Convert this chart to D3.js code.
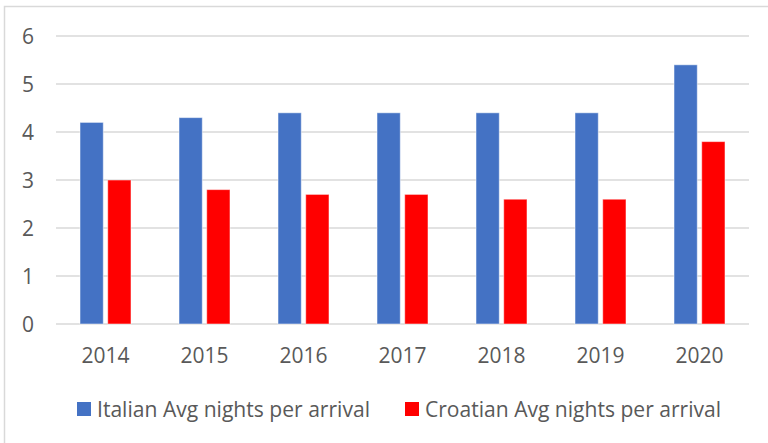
<!DOCTYPE html>
<html>
<head>
<meta charset="utf-8">
<script src="https://cdn.jsdelivr.net/npm/d3@7"></script>
<style>
  body { margin: 0; background: #fff; }
  svg { display: block; font-family: "Open Sans", "Noto Sans", sans-serif; }
</style>
</head>
<body>
<svg id="chart"></svg>
<script>
const years = ["2014", "2015", "2016", "2017", "2018", "2019", "2020"];
const italian = [4.2, 4.3, 4.4, 4.4, 4.4, 4.4, 5.4];
const croatian = [3.0, 2.8, 2.7, 2.7, 2.6, 2.6, 3.8];
const seriesNames = ["Italian Avg nights per arrival", "Croatian Avg nights per arrival"];
const seriesColors = ["#4472C4", "#FF0000"];
const yTicks = [0, 1, 2, 3, 4, 5, 6];

const width = 768;
const height = 443;
const textColor = "#595959";

const svg = d3.select("#chart")
  .attr("width", width)
  .attr("height", height);

// chart border (cut off at right/bottom like the reference)
svg.append("rect")
  .attr("x", 4.5).attr("y", 6.5)
  .attr("width", width + 10).attr("height", height + 10)
  .attr("fill", "none")
  .attr("stroke", "#d9d9d9")
  .attr("stroke-width", 1.5);

const x0 = d3.scaleBand().domain(years).range([56, 749]).paddingInner(0.485).paddingOuter(0.2425);
const x1 = d3.scaleBand().domain([0, 1]).range([0, x0.bandwidth()]).paddingInner(0.16);
const y = d3.scaleLinear().domain([0, 6]).range([324, 36]);

// gridlines
svg.append("g")
  .selectAll("line")
  .data(yTicks)
  .join("line")
  .attr("x1", 56).attr("x2", 749)
  .attr("y1", d => y(d)).attr("y2", d => y(d))
  .attr("stroke", "#d9d9d9")
  .attr("stroke-width", 1.5);

// y labels
svg.append("g")
  .selectAll("text")
  .data(yTicks)
  .join("text")
  .attr("x", 34)
  .attr("y", d => y(d))
  .attr("dy", "0.36em")
  .attr("text-anchor", "end")
  .attr("font-size", 21)
  .attr("fill", textColor)
  .text(d => d);

// bars
const series = [italian, croatian];
const groups = svg.append("g")
  .selectAll("g")
  .data(years)
  .join("g")
  .attr("transform", d => `translate(${x0(d)},0)`);

groups.selectAll("rect")
  .data((d, i) => series.map((s, k) => ({ k, v: s[i] })))
  .join("rect")
  .attr("x", d => x1(d.k))
  .attr("y", d => y(d.v))
  .attr("width", x1.bandwidth())
  .attr("height", d => y(0) - y(d.v))
  .attr("fill", d => seriesColors[d.k])
  .attr("stroke", "#fff")
  .attr("stroke-opacity", 0.5)
  .attr("stroke-width", 1);

// x labels
svg.append("g")
  .selectAll("text")
  .data(years)
  .join("text")
  .attr("x", d => x0(d) + x0.bandwidth() / 2)
  .attr("y", 363)
  .attr("text-anchor", "middle")
  .attr("font-size", 21)
  .attr("fill", textColor)
  .text(d => d);

// legend
const legendX = [77, 405];
const legendW = [273, 296];
const legend = svg.append("g")
  .selectAll("g")
  .data(seriesNames)
  .join("g")
  .attr("transform", (d, i) => `translate(${legendX[i]},402)`);

legend.append("rect")
  .attr("width", 14).attr("height", 14)
  .attr("fill", (d, i) => seriesColors[i]);

legend.append("text")
  .attr("x", 20)
  .attr("y", 15)
  .attr("font-size", 21)
  .attr("fill", textColor)
  .attr("textLength", (d, i) => legendW[i])
  .attr("lengthAdjust", "spacingAndGlyphs")
  .text(d => d);
</script>
</body>
</html>
